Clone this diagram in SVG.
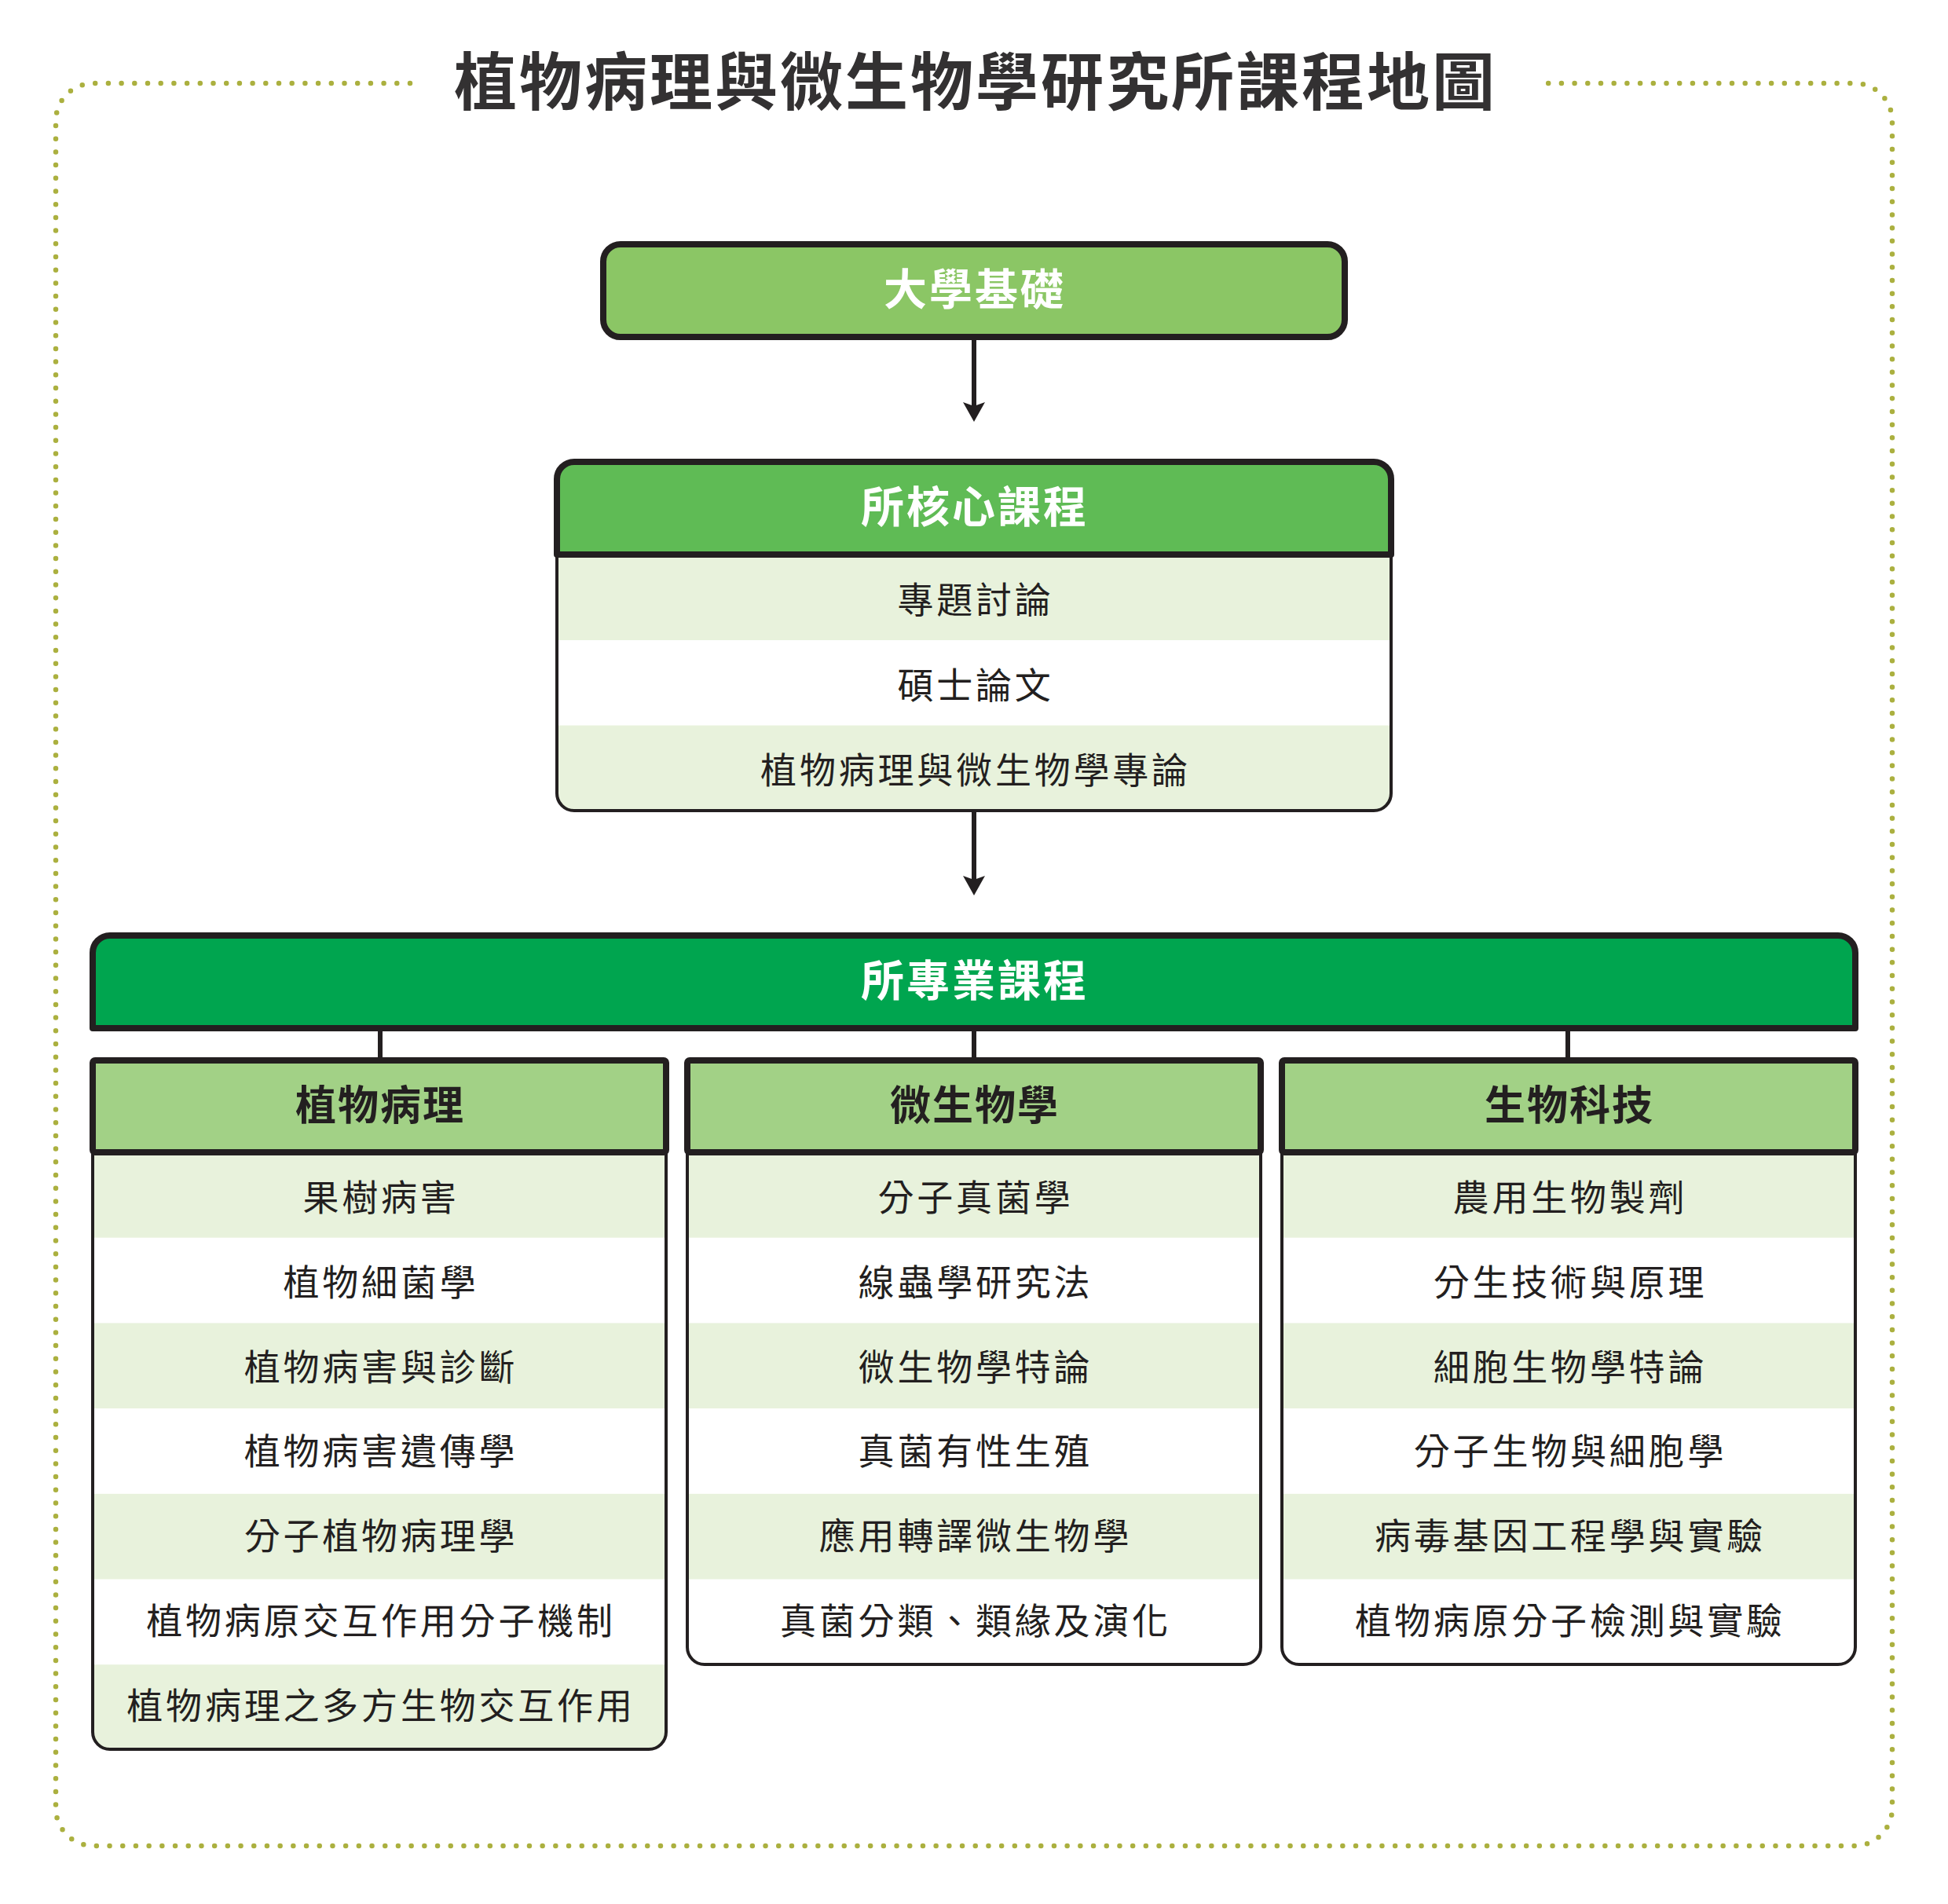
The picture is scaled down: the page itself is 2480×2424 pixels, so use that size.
<svg xmlns="http://www.w3.org/2000/svg" width="2480" height="2424" viewBox="0 0 2480 2424">
<defs>
<style>
.t{font-family:"Noto Sans CJK TC","Noto Sans CJK SC",sans-serif;text-anchor:middle;dominant-baseline:central}
.title{font-size:80px;font-weight:700;fill:#333132;letter-spacing:3px}
.hw{font-size:55px;font-weight:700;fill:#ffffff;letter-spacing:3px}
.hd{font-size:52px;font-weight:700;fill:#231f20;letter-spacing:2px}
.row{font-size:46px;font-weight:400;fill:#231f20;letter-spacing:3.8px}
.thick{stroke:#231f20;stroke-width:8;stroke-linejoin:round}
.thin{fill:none;stroke:#231f20;stroke-width:4}
.lg{fill:#e8f2dc}
.wh{fill:#ffffff}
.conn{stroke:#231f20;stroke-width:6;fill:none}
</style>
<marker id="ah" markerUnits="userSpaceOnUse" viewBox="0 -15 26 30" markerWidth="26" markerHeight="30" refX="13" refY="0" orient="auto">
<path d="M25,0 L0,-14 L5,0 L0,14 Z" fill="#231f20"/>
</marker>
</defs>
<rect width="2480" height="2424" fill="#ffffff"/>
<path d="M522,106 H119 A48,48 0 0 0 71,154 V2302 A48,48 0 0 0 119,2350 H2361 A48,48 0 0 0 2409,2302 V154 A48,48 0 0 0 2361,106 H1967" fill="none" stroke="#abb03f" stroke-width="6.5" stroke-linecap="round" stroke-dasharray="0 16.7"/>
<text class="t title" x="1242" y="98">植物病理與微生物學研究所課程地圖</text>

<g id="connectors">
<line class="conn" x1="1240" y1="433" x2="1240" y2="525" marker-end="url(#ah)"/>
<line class="conn" x1="1240" y1="1034" x2="1240" y2="1128" marker-end="url(#ah)"/>
<line class="conn" x1="484" y1="1311" x2="484" y2="1348"/>
<line class="conn" x1="1240" y1="1311" x2="1240" y2="1348"/>
<line class="conn" x1="1996" y1="1311" x2="1996" y2="1348"/>
</g>

<g id="node-base">
<rect class="thick" x="768" y="311" width="944" height="118" rx="22" fill="#8bc665"/>
<text class="t hw" x="1241" y="364">大學基礎</text>
</g>

<g id="node-core">
<path class="lg" d="M709,706 V1010 A22,22 0 0 0 731,1032 H1749 A22,22 0 0 0 1771,1010 V706 Z"/>
<rect class="wh" x="711" y="815" width="1058" height="108.5"/>
<path class="thin" d="M709,706 V1010 A22,22 0 0 0 731,1032 H1749 A22,22 0 0 0 1771,1010 V706"/>
<path class="thick" fill="#5fbb55" d="M709,706 V610 A22,22 0 0 1 731,588 H1749 A22,22 0 0 1 1771,610 V706 Z"/>
<text class="t hw" x="1241" y="641">所核心課程</text>
<text class="t row" x="1242" y="760">專題討論</text>
<text class="t row" x="1242" y="869">碩士論文</text>
<text class="t row" x="1242" y="977">植物病理與微生物學專論</text>
</g>

<g id="node-prof">
<path class="thick" fill="#00a54f" d="M118,1309 V1213 A22,22 0 0 1 140,1191 H2340 A22,22 0 0 1 2362,1213 V1309 Z"/>
<text class="t hw" x="1241" y="1244">所專業課程</text>
</g>

<g id="node-col1">
<path class="lg" d="M118,1467 V2205 A22,22 0 0 0 140,2227 H826 A22,22 0 0 0 848,2205 V1467 Z"/>
<rect class="wh" x="120" y="1575.7" width="726" height="108.7"/>
<rect class="wh" x="120" y="1793.1" width="726" height="108.7"/>
<rect class="wh" x="120" y="2010.5" width="726" height="108.7"/>
<path class="thin" d="M118,1467 V2205 A22,22 0 0 0 140,2227 H826 A22,22 0 0 0 848,2205 V1467"/>
<rect class="thick" x="118" y="1350" width="730" height="117" rx="3" fill="#a2d186"/>
<text class="t hd" x="484" y="1403">植物病理</text>
<text class="t row" x="485" y="1521">果樹病害</text>
<text class="t row" x="485" y="1629">植物細菌學</text>
<text class="t row" x="485" y="1736.5">植物病害與診斷</text>
<text class="t row" x="485" y="1844">植物病害遺傳學</text>
<text class="t row" x="485" y="1952">分子植物病理學</text>
<text class="t row" x="485" y="2060">植物病原交互作用分子機制</text>
<text class="t row" x="485" y="2167.5">植物病理之多方生物交互作用</text>
</g>

<g id="node-col2">
<path class="wh" d="M875,1467 V2097 A22,22 0 0 0 897,2119 H1583 A22,22 0 0 0 1605,2097 V1467 Z"/>
<rect class="lg" x="877" y="1467" width="726" height="108.7"/>
<rect class="lg" x="877" y="1684.4" width="726" height="108.7"/>
<rect class="lg" x="877" y="1901.8" width="726" height="108.7"/>
<path class="thin" d="M875,1467 V2097 A22,22 0 0 0 897,2119 H1583 A22,22 0 0 0 1605,2097 V1467"/>
<rect class="thick" x="875" y="1350" width="730" height="117" rx="3" fill="#a2d186"/>
<text class="t hd" x="1241" y="1403">微生物學</text>
<text class="t row" x="1242" y="1521">分子真菌學</text>
<text class="t row" x="1242" y="1629">線蟲學研究法</text>
<text class="t row" x="1242" y="1736.5">微生物學特論</text>
<text class="t row" x="1242" y="1844">真菌有性生殖</text>
<text class="t row" x="1242" y="1952">應用轉譯微生物學</text>
<text class="t row" x="1242" y="2060">真菌分類、類緣及演化</text>
</g>

<g id="node-col3">
<path class="wh" d="M1632,1467 V2097 A22,22 0 0 0 1654,2119 H2340 A22,22 0 0 0 2362,2097 V1467 Z"/>
<rect class="lg" x="1634" y="1467" width="726" height="108.7"/>
<rect class="lg" x="1634" y="1684.4" width="726" height="108.7"/>
<rect class="lg" x="1634" y="1901.8" width="726" height="108.7"/>
<path class="thin" d="M1632,1467 V2097 A22,22 0 0 0 1654,2119 H2340 A22,22 0 0 0 2362,2097 V1467"/>
<rect class="thick" x="1632" y="1350" width="730" height="117" rx="3" fill="#a2d186"/>
<text class="t hd" x="1998" y="1403">生物科技</text>
<text class="t row" x="1999" y="1521">農用生物製劑</text>
<text class="t row" x="1999" y="1629">分生技術與原理</text>
<text class="t row" x="1999" y="1736.5">細胞生物學特論</text>
<text class="t row" x="1999" y="1844">分子生物與細胞學</text>
<text class="t row" x="1999" y="1952">病毒基因工程學與實驗</text>
<text class="t row" x="1999" y="2060">植物病原分子檢測與實驗</text>
</g>
</svg>
